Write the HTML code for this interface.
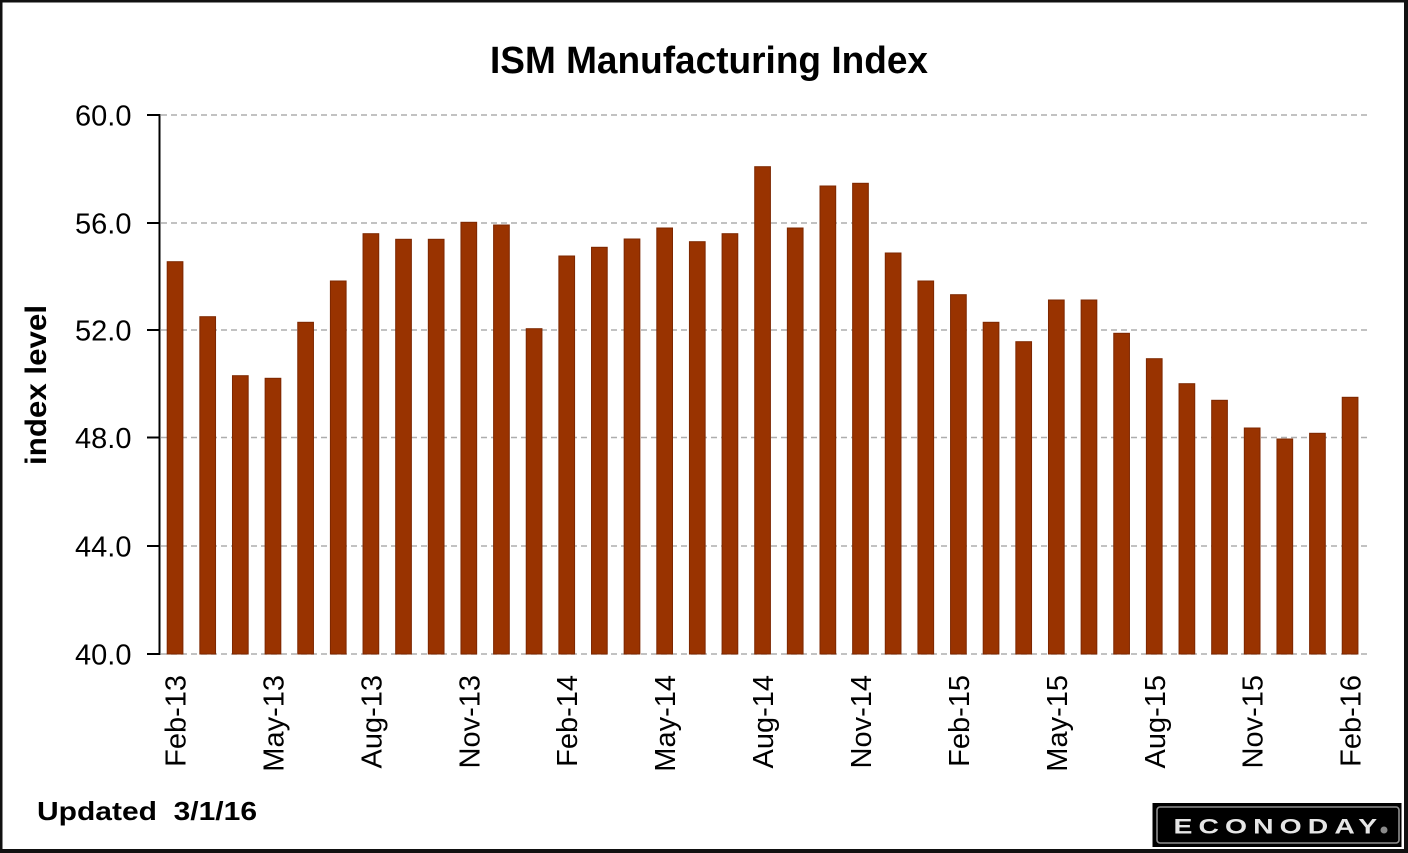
<!DOCTYPE html>
<html>
<head>
<meta charset="utf-8">
<style>
html,body{margin:0;padding:0;background:#fff;}
svg{display:block;}
text{font-family:"Liberation Sans",Arial,sans-serif;}
</style>
</head>
<body>
<svg width="1408" height="853" viewBox="0 0 1408 853" xmlns="http://www.w3.org/2000/svg">
  <!-- frame -->
  <rect x="0" y="0" width="1408" height="853" fill="#111"/>
  <rect x="2.5" y="2.5" width="1401.5" height="846.5" fill="#fff"/>

  <!-- title -->
  <text x="490" y="73" font-size="38" font-weight="bold" fill="#000" textLength="438" lengthAdjust="spacingAndGlyphs">ISM Manufacturing Index</text>

  <!-- gridlines -->
  <g stroke="#adadad" stroke-width="1.6" stroke-dasharray="6 4" fill="none">
    <line x1="161" y1="115" x2="1368" y2="115"/>
    <line x1="161" y1="223" x2="1368" y2="223"/>
    <line x1="161" y1="330" x2="1368" y2="330"/>
    <line x1="161" y1="437.5" x2="1368" y2="437.5"/>
    <line x1="161" y1="546" x2="1368" y2="546"/>
    <line x1="161" y1="654" x2="1368" y2="654"/>
  </g>

  <!-- y axis -->
  <g stroke="#000" stroke-width="2">
    <line x1="159.5" y1="114" x2="159.5" y2="655"/>
    <line x1="147" y1="115" x2="160" y2="115"/>
    <line x1="147" y1="223" x2="160" y2="223"/>
    <line x1="147" y1="330" x2="160" y2="330"/>
    <line x1="147" y1="437.5" x2="160" y2="437.5"/>
    <line x1="147" y1="546" x2="160" y2="546"/>
    <line x1="147" y1="654" x2="160" y2="654"/>
  </g>
  <g font-size="29" fill="#000" text-anchor="end">
    <text x="131.5" y="125.5">60.0</text>
    <text x="131.5" y="233.5">56.0</text>
    <text x="131.5" y="340.5">52.0</text>
    <text x="131.5" y="448">48.0</text>
    <text x="131.5" y="556.5">44.0</text>
    <text x="131.5" y="664.5">40.0</text>
  </g>

  <!-- y axis title -->
  <text transform="translate(46,385) rotate(-90)" text-anchor="middle" font-size="30" font-weight="bold" fill="#000" textLength="160" lengthAdjust="spacingAndGlyphs">index level</text>

  <!-- bars -->
  <g fill="#993300" stroke="#7d2700" stroke-width="1">
    <rect x="167.2" y="261.7" width="15.7" height="392.3"/>
    <rect x="199.84" y="316.7" width="15.7" height="337.3"/>
    <rect x="232.48" y="375.7" width="15.7" height="278.3"/>
    <rect x="265.12" y="378.3" width="15.7" height="275.7"/>
    <rect x="297.76" y="322.3" width="15.7" height="331.7"/>
    <rect x="330.4" y="281" width="15.7" height="373"/>
    <rect x="363.04" y="233.7" width="15.7" height="420.3"/>
    <rect x="395.68" y="239.3" width="15.7" height="414.7"/>
    <rect x="428.32" y="239.3" width="15.7" height="414.7"/>
    <rect x="460.96" y="222.3" width="15.7" height="431.7"/>
    <rect x="493.6" y="225" width="15.7" height="429"/>
    <rect x="526.24" y="328.7" width="15.7" height="325.3"/>
    <rect x="558.88" y="256" width="15.7" height="398"/>
    <rect x="591.52" y="247.3" width="15.7" height="406.7"/>
    <rect x="624.16" y="239" width="15.7" height="415"/>
    <rect x="656.8" y="228" width="15.7" height="426"/>
    <rect x="689.44" y="241.7" width="15.7" height="412.3"/>
    <rect x="722.08" y="233.7" width="15.7" height="420.3"/>
    <rect x="754.72" y="166.7" width="15.7" height="487.3"/>
    <rect x="787.36" y="228" width="15.7" height="426"/>
    <rect x="820" y="186" width="15.7" height="468"/>
    <rect x="852.64" y="183.3" width="15.7" height="470.7"/>
    <rect x="885.28" y="253" width="15.7" height="401"/>
    <rect x="917.92" y="281" width="15.7" height="373"/>
    <rect x="950.56" y="294.7" width="15.7" height="359.3"/>
    <rect x="983.2" y="322.3" width="15.7" height="331.7"/>
    <rect x="1015.84" y="341.7" width="15.7" height="312.3"/>
    <rect x="1048.48" y="300" width="15.7" height="354"/>
    <rect x="1081.12" y="300" width="15.7" height="354"/>
    <rect x="1113.76" y="333.3" width="15.7" height="320.7"/>
    <rect x="1146.4" y="358.7" width="15.7" height="295.3"/>
    <rect x="1179.04" y="383.7" width="15.7" height="270.3"/>
    <rect x="1211.68" y="400.3" width="15.7" height="253.7"/>
    <rect x="1244.32" y="428" width="15.7" height="226"/>
    <rect x="1276.96" y="439" width="15.7" height="215"/>
    <rect x="1309.6" y="433.3" width="15.7" height="220.7"/>
    <rect x="1342.24" y="397.3" width="15.7" height="256.7"/>
  </g>

  <!-- x labels -->
  <g font-size="29" fill="#000" text-anchor="end">
    <text transform="translate(185.5,675) rotate(-90)">Feb-13</text>
    <text transform="translate(283.5,675) rotate(-90)">May-13</text>
    <text transform="translate(381.4,675) rotate(-90)">Aug-13</text>
    <text transform="translate(479.3,675) rotate(-90)">Nov-13</text>
    <text transform="translate(577.2,675) rotate(-90)">Feb-14</text>
    <text transform="translate(675.2,675) rotate(-90)">May-14</text>
    <text transform="translate(773.1,675) rotate(-90)">Aug-14</text>
    <text transform="translate(871,675) rotate(-90)">Nov-14</text>
    <text transform="translate(968.9,675) rotate(-90)">Feb-15</text>
    <text transform="translate(1066.8,675) rotate(-90)">May-15</text>
    <text transform="translate(1164.8,675) rotate(-90)">Aug-15</text>
    <text transform="translate(1262.7,675) rotate(-90)">Nov-15</text>
    <text transform="translate(1360.6,675) rotate(-90)">Feb-16</text>
  </g>

  <!-- updated -->
  <text x="37" y="820" font-size="26" font-weight="bold" fill="#000" textLength="220" lengthAdjust="spacingAndGlyphs">Updated&#160; 3/1/16</text>

  <!-- logo -->
  <rect x="1152.5" y="803" width="249" height="44" fill="#000"/>
  <rect x="1157" y="807" width="242" height="36" rx="3" ry="3" fill="none" stroke="#8f8f8f" stroke-width="1.6"/>
  <text transform="translate(1173.5,833.5) scale(1.35,1)" font-size="21" font-weight="bold" fill="#e6e6e6" letter-spacing="4.5">ECONODAY</text>
  <circle cx="1384" cy="830" r="3.5" fill="#8a8a8a"/>
</svg>
</body>
</html>
